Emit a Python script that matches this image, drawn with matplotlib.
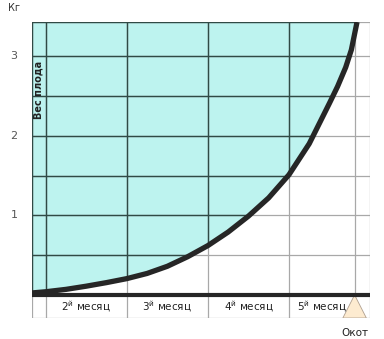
import matplotlib.pyplot as plt
from matplotlib.patches import Polygon

# fetal weight (kg) by month of pregnancy
month = [0.83, 1.0, 1.25, 1.5, 1.75, 2.0, 2.25, 2.5, 2.75, 3.0, 3.25, 3.5,
         3.75, 4.0, 4.25, 4.5, 4.6, 4.7, 4.77, 4.84]
weight = [0.025, 0.04, 0.07, 0.11, 0.155, 0.205, 0.27, 0.36, 0.48, 0.62, 0.79, 0.99,
          1.22, 1.51, 1.90, 2.41, 2.62, 2.86, 3.08, 3.43]

kg_ticks = [1, 2, 3]
kg_grid = [0.5, 1, 1.5, 2, 2.5, 3]
month_grid = [1, 2, 3, 4]
month_labels = ['2', '3', '4', '5']
month_centers = [1.49, 2.5, 3.5, 4.41]
birth = 4.81

x0, x1 = 0.83, 5.0
y_top, y_row = 3.43, -0.29

fill_col = '#bdf3ef'
dark = '#2f4a45'
light = '#a8a8a8'

fig = plt.figure(figsize=(3.84, 3.39), dpi=100)
ax = fig.add_axes([32 / 384, 21 / 339, 338 / 384, 296 / 339])
ax.set_xlim(x0, x1)
ax.set_ylim(y_row, y_top)
ax.axis('off')

# cyan area above the curve
region = Polygon(list(zip(month, weight)) + [(x0, y_top)], closed=True,
                 facecolor=fill_col, edgecolor='none', zorder=1)
ax.add_patch(region)

# grid: light everywhere, dark inside the filled area
for col, lw, z, clip in [(light, 0.9, 2, False), (dark, 1.0, 3, True)]:
    lines = []
    for g in kg_grid + [y_top]:
        lines += ax.plot([x0, x1], [g, g], color=col, lw=lw, zorder=z)
    for g in [x0] + month_grid + [birth, x1]:
        lines += ax.plot([g, g], [0, y_top], color=col, lw=lw, zorder=z)
    if clip:
        for ln in lines:
            ln.set_clip_path(region)

# month row below the baseline
for g in [x0] + month_grid + [birth, x1]:
    ax.plot([g, g], [y_row, 0], color=light, lw=0.9, zorder=2)
ax.plot([x0, x1], [y_row, y_row], color=light, lw=0.9, zorder=2)

for lab, c in zip(month_labels, month_centers):
    ax.text(c, -0.145, lab + r'$^{\mathrm{й}}$ месяц', ha='center', va='center',
            fontsize=7.5, color='#222222', zorder=5)

# birth marker
tri = Polygon([(birth, 0), (birth - 0.145, y_row), (birth + 0.145, y_row)],
              closed=True, facecolor='#fdebd0', edgecolor='#b0a090', lw=0.6, zorder=4)
ax.add_patch(tri)
ax.text(birth, -0.48, 'Окот', ha='center', va='center', fontsize=7.5,
        color='#222222', clip_on=False)

# baseline and curve
ax.plot([x0, x1], [0, 0], color='#262626', lw=3, zorder=6, solid_capstyle='butt')
ax.plot(month, weight, color='#262626', lw=3.8, zorder=7,
        solid_capstyle='butt', solid_joinstyle='round')

# axis labels
for t in kg_ticks:
    ax.text(0.61, t, str(t), ha='center', va='center', fontsize=8,
            color='#555555', clip_on=False)
ax.text(0.61, 3.61, 'Кг', ha='center', va='center', fontsize=7,
        color='#333333', clip_on=False)
ax.text(0.905, 2.58, 'Вес плода', rotation=90, ha='center', va='center',
        fontsize=7, fontweight='bold', color='#222222', zorder=5)

fig.savefig('out.png', dpi=100)
